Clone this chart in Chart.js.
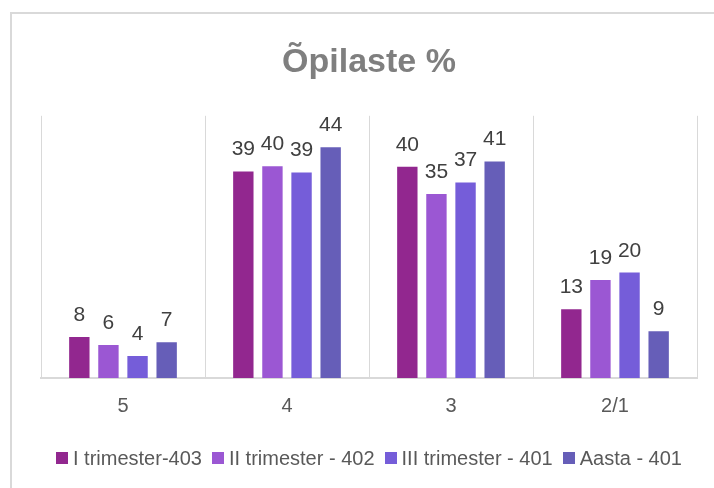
<!DOCTYPE html>
<html>
<head>
<meta charset="utf-8">
<script src="https://cdn.jsdelivr.net/npm/chart.js@4.4.1/dist/chart.umd.min.js"></script>
<style>
  html, body { margin: 0; padding: 0; background: #fff; }
  #wrap { position: relative; width: 714px; height: 488px; overflow: hidden; }
  #frame { position: absolute; left: 10px; top: 12px; width: 800px; height: 600px; border: 2px solid #d9d9d9; }
  #chart { position: absolute; left: 0; top: 0; }
  #legend { position: absolute; left: 41px; width: 656px; top: 446px; height: 24px;
            display: flex; justify-content: center; align-items: center;
            font-family: 'Liberation Sans', Arial, sans-serif; font-size: 20px; color: #595959; white-space: nowrap; }
  #legend .item { display: flex; align-items: center; margin: 0 5px; }
  #legend .box { width: 12px; height: 12px; margin-right: 5px; }
</style>
</head>
<body>
<div id="wrap">
  <div id="frame"></div>
  <canvas id="chart" width="714" height="488"></canvas>
  <div id="legend"></div>
</div>
<script>
// grade categories
const categories = ['5', '4', '3', '2/1'];

// series (percent of students)
const series_labels = ['I trimester-403', 'II trimester - 402', 'III trimester - 401', 'Aasta - 401'];
const trimester1 = [7.8, 39.4, 40.3, 13.1];
const trimester2 = [6.3, 40.4, 35.1, 18.7];
const trimester3 = [4.2, 39.2, 37.3, 20.1];
const year_total = [6.8, 44.0, 41.3, 8.9];

const colours = ['#92278F', '#9B57D3', '#755DD9', '#665EB8'];
const font_family = "'Liberation Sans', Arial, sans-serif";

const all_series = [trimester1, trimester2, trimester3, year_total];
const datasets = [];
for (var i = 0; i < all_series.length; i++) {
    datasets.push({
        label: series_labels[i],
        data: all_series[i],
        backgroundColor: colours[i],
        borderWidth: 0,
        categoryPercentage: 0.71,
        barPercentage: 0.70
    });
}

// draw the value above each bar
const value_labels = {
    id: 'value_labels',
    afterDatasetsDraw(chart) {
        const ctx = chart.ctx;
        ctx.save();
        ctx.font = '21px ' + font_family;
        ctx.fillStyle = '#404040';
        ctx.textAlign = 'center';
        ctx.textBaseline = 'alphabetic';
        chart.data.datasets.forEach(function (ds, i) {
            const meta = chart.getDatasetMeta(i);
            meta.data.forEach(function (bar, j) {
                ctx.fillText(Math.round(ds.data[j]), bar.x, bar.y - 16);
            });
        });
        ctx.restore();
    }
};

const canvas = document.getElementById('chart');
const chart = new Chart(canvas, {
    type: 'bar',
    data: { labels: categories, datasets: datasets },
    plugins: [value_labels],
    options: {
        responsive: false,
        animation: false,
        layout: { padding: { left: 41, right: 17, top: 0, bottom: 54 } },
        plugins: {
            title: {
                display: true,
                text: 'Õpilaste %',
                color: '#7f7f7f',
                font: { family: font_family, size: 34, weight: 'bold' },
                padding: { top: 42, bottom: 33 }
            },
            legend: { display: false },
            tooltip: { enabled: false }
        },
        scales: {
            x: {
                grid: { offset: true, color: '#d9d9d9', drawTicks: false },
                border: { color: '#d9d9d9', width: 2 },
                ticks: { color: '#595959', font: { family: font_family, size: 20 }, padding: 16 }
            },
            y: {
                display: false,
                min: 0,
                max: 50
            }
        }
    }
});

// html legend built from the chart's own legend items
const legend_el = document.getElementById('legend');
const items = chart.options.plugins.legend.labels.generateLabels(chart);
items.forEach(function (item) {
    const div = document.createElement('div');
    div.className = 'item';
    const box = document.createElement('span');
    box.className = 'box';
    box.style.background = item.fillStyle;
    const txt = document.createElement('span');
    txt.textContent = item.text;
    div.appendChild(box);
    div.appendChild(txt);
    legend_el.appendChild(div);
});
</script>
</body>
</html>
